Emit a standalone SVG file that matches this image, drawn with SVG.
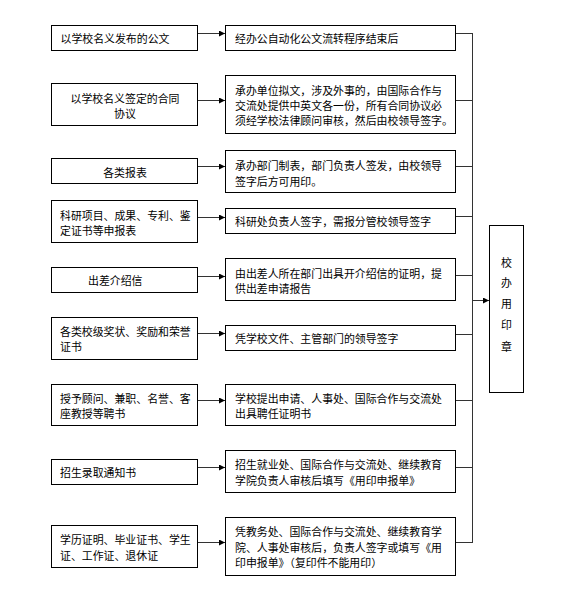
<svg xmlns="http://www.w3.org/2000/svg" width="561" height="609" viewBox="0 0 561 609">
<style>
rect{fill:#fff;stroke:#000;stroke-width:1}
text{font-family:"Noto Sans CJK SC","Noto Sans CJK TC",sans-serif;font-size:10.9px;fill:#000;dominant-baseline:central}
.c{text-anchor:middle}
.ln{stroke:#333;stroke-width:1;fill:none}
</style>
<defs>
<marker id="ah" markerWidth="6" markerHeight="6" refX="6" refY="3" orient="auto" markerUnits="userSpaceOnUse">
<path d="M0,0 L6,3 L0,6 Z" fill="#000"/>
</marker>
</defs>
<rect x="0" y="0" width="561" height="609" style="stroke:none"/>
<g id="connectors">
<path class="ln" d="M197.5,33.5H225" marker-end="url(#ah)"/>
<path class="ln" d="M197.5,100.5H225" marker-end="url(#ah)"/>
<path class="ln" d="M197.5,166.5H225" marker-end="url(#ah)"/>
<path class="ln" d="M197.5,217.5H225" marker-end="url(#ah)"/>
<path class="ln" d="M197.5,276.5H225" marker-end="url(#ah)"/>
<path class="ln" d="M197.5,333.5H225" marker-end="url(#ah)"/>
<path class="ln" d="M197.5,400.5H225" marker-end="url(#ah)"/>
<path class="ln" d="M197.5,467.5H225" marker-end="url(#ah)"/>
<path class="ln" d="M197.5,542.5H225" marker-end="url(#ah)"/>
<path class="ln" d="M455.5,33.5H472.5M455.5,100.5H472.5M455.5,166.5H472.5M455.5,216.5H472.5M455.5,275.5H472.5M455.5,334.5H472.5M455.5,400.5H472.5M455.5,467.5H472.5M455.5,542.5H472.5"/>
<path class="ln" d="M472.5,33V543"/>
<path class="ln" d="M472.5,300.5H489" marker-end="url(#ah)"/>
</g>
<g id="n1"><rect x="51.5" y="25.5" width="146" height="25"/><text x="60.5" y="38.3">以学校名义发布的公文</text></g>
<g id="m1"><rect x="225.5" y="25.5" width="230" height="25"/><text x="235" y="38.3">经办公自动化公文流转程序结束后</text></g>
<g id="n2"><rect x="51.5" y="83.5" width="146" height="42"/><text class="c" x="125" y="98.3">以学校名义签定的合同</text><text class="c" x="125" y="112.7">协议</text></g>
<g id="m2"><rect x="225.5" y="75.5" width="230" height="58"/><text x="235" y="90">承办单位拟文，涉及外事的，由国际合作与</text><text x="235" y="105.3">交流处提供中英文各一份，所有合同协议必</text><text x="235" y="120">须经学校法律顾问审核，然后由校领导签字。</text></g>
<g id="n3"><rect x="51.5" y="158.5" width="146" height="25"/><text class="c" x="125" y="171.7">各类报表</text></g>
<g id="m3"><rect x="225.5" y="150.5" width="230" height="42"/><text x="235" y="165">承办部门制表，部门负责人签发，由校领导</text><text x="235" y="180.7">签字后方可用印。</text></g>
<g id="n4"><rect x="51.5" y="200.5" width="146" height="42"/><text x="60" y="215">科研项目、成果、专利、鉴</text><text x="60" y="230">定证书等申报表</text></g>
<g id="m4"><rect x="225.5" y="208.5" width="230" height="25"/><text x="235" y="221">科研处负责人签字，需报分管校领导签字</text></g>
<g id="n5"><rect x="51.5" y="267.5" width="146" height="25"/><text x="88" y="280">出差介绍信</text></g>
<g id="m5"><rect x="225.5" y="258.5" width="230" height="42"/><text x="235" y="272.7">由出差人所在部门出具开介绍信的证明，提</text><text x="235" y="287.7">供出差申请报告</text></g>
<g id="n6"><rect x="51.5" y="317.5" width="146" height="42"/><text x="60" y="330.7">各类校级奖状、奖励和荣誉</text><text x="60" y="345.7">证书</text></g>
<g id="m6"><rect x="225.5" y="325.5" width="230" height="25"/><text x="235" y="338.3">凭学校文件、主管部门的领导签字</text></g>
<g id="n7"><rect x="51.5" y="384.5" width="146" height="41"/><text x="60" y="397.7">授予顾问、兼职、名誉、客</text><text x="60" y="412.7">座教授等聘书</text></g>
<g id="m7"><rect x="225.5" y="384.5" width="230" height="41"/><text x="235" y="397.7">学校提出申请、人事处、国际合作与交流处</text><text x="235" y="412.7">出具聘任证明书</text></g>
<g id="n8"><rect x="51.5" y="459.5" width="146" height="25"/><text x="60" y="471.7">招生录取通知书</text></g>
<g id="m8"><rect x="225.5" y="450.5" width="230" height="42"/><text x="235" y="464.3">招生就业处、国际合作与交流处、继续教育</text><text x="235" y="480">学院负责人审核后填写《用印申报单》</text></g>
<g id="n9"><rect x="51.5" y="525.5" width="146" height="42"/><text x="60" y="539.3">学历证明、毕业证书、学生</text><text x="60" y="555">证、工作证、退休证</text></g>
<g id="m9"><rect x="225.5" y="517.5" width="230" height="58"/><text x="235" y="531">凭教务处、国际合作与交流处、继续教育学</text><text x="235" y="546.7">院、人事处审核后，负责人签字或填写《用</text><text x="235" y="562.3">印申报单》（复印件不能用印）</text></g>
<g id="seal"><rect x="489.5" y="225.5" width="34" height="167"/><text class="c" x="506.5" y="261.7">校</text><text class="c" x="506.5" y="282">办</text><text class="c" x="506.5" y="303">用</text><text class="c" x="506.5" y="323.5">印</text><text class="c" x="506.5" y="345.7">章</text></g>
</svg>
